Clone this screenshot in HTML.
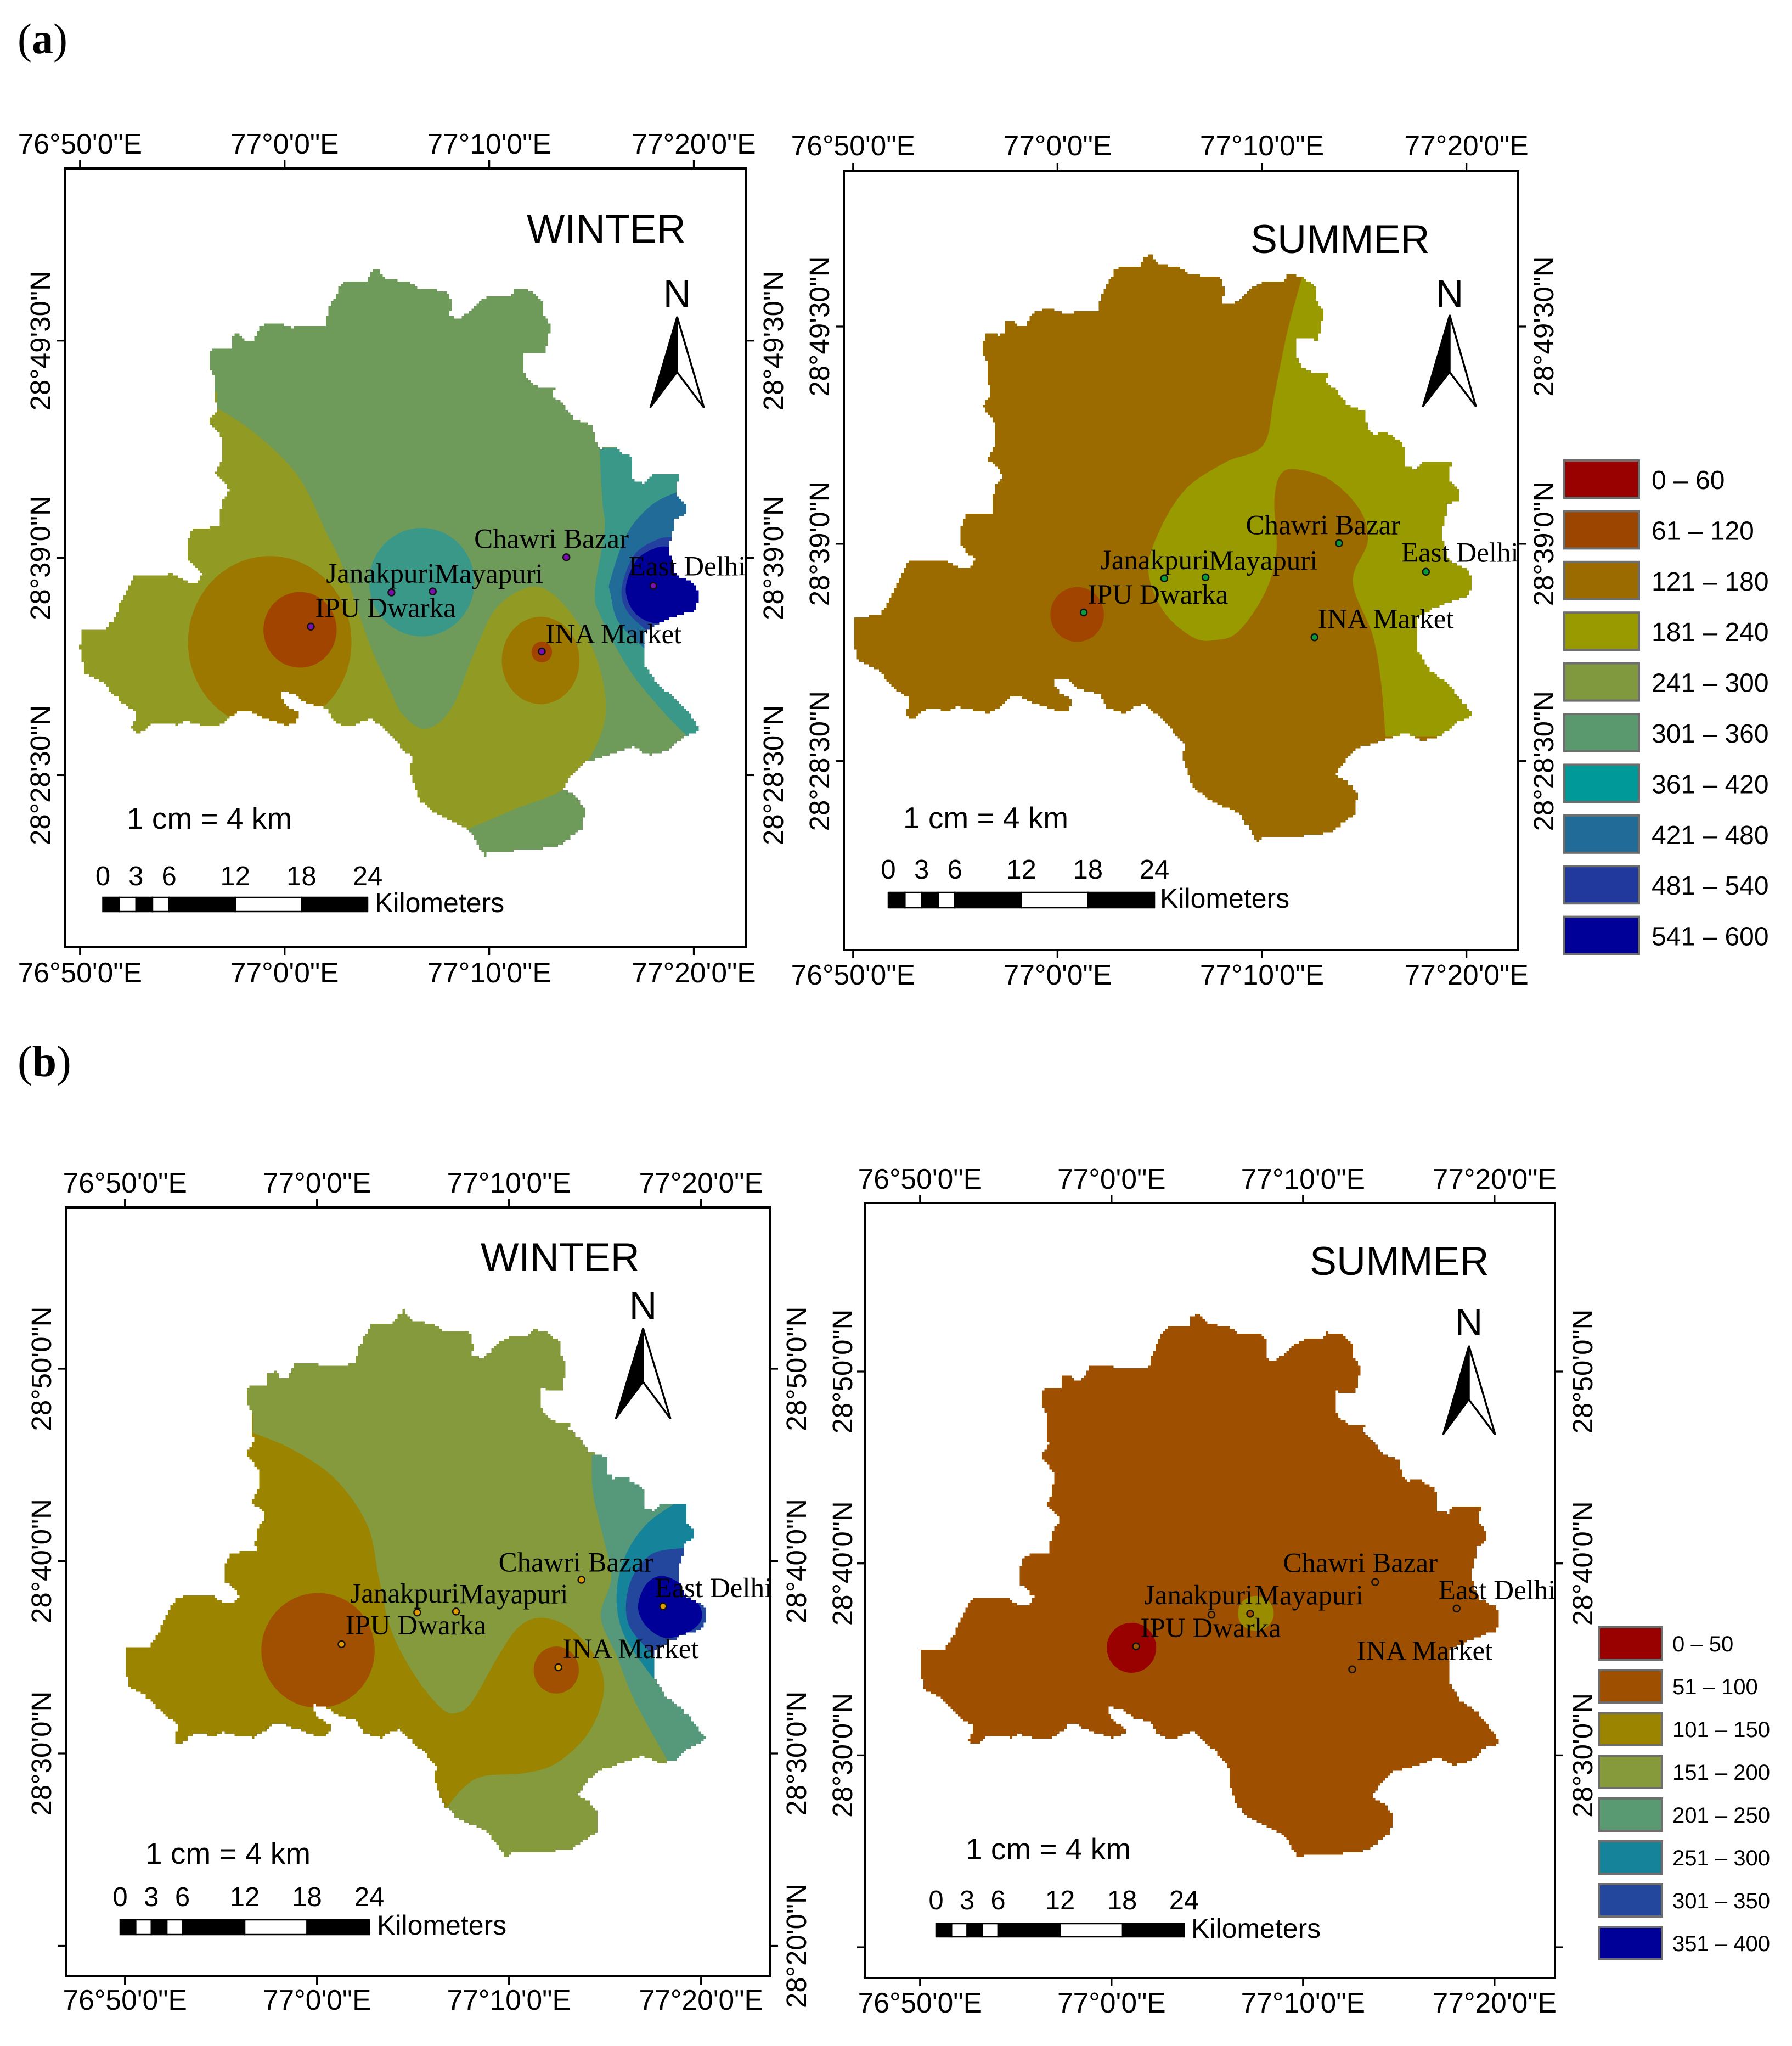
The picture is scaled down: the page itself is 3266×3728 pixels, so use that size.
<!DOCTYPE html>
<html lang="en">
<head>
<meta charset="utf-8">
<title>Delhi seasonal concentration maps</title>
<style>
html,body{margin:0;padding:0;background:#fff}
svg{display:block}
text{font-family:"Liberation Sans",Arial,sans-serif;fill:#000}
.serif{font-family:"Liberation Serif","Times New Roman",serif}
</style>
</head>
<body>
<svg id="figure" xmlns="http://www.w3.org/2000/svg" width="3266" height="3728" viewBox="0 0 3266 3728">
  <rect x="0" y="0" width="3266" height="3728" fill="#fff"/>
  <text class="serif" x="32" y="97" font-size="78">(<tspan font-weight="bold">a</tspan>)</text>
  <text class="serif" x="32" y="1961" font-size="80">(<tspan font-weight="bold">b</tspan>)</text>
</svg>
<script>
// ---- axis data (minutes east of 76°50' and north of 28°20') ----
const lonTickValues = [0, 10, 20, 30];
const lonTickLabels = ['76°50\'0"E', '77°0\'0"E', '77°10\'0"E', '77°20\'0"E'];
const latTickValuesA = [29.5, 19, 8.5];
const latTickLabelsA = ['28°49\'30"N', '28°39\'0"N', '28°28\'30"N'];
const latTickValuesB = [30, 20, 10, 0];
const latTickLabelsB = ['28°50\'0"N', '28°40\'0"N', '28°30\'0"N', '28°20\'0"N'];

// ---- monitoring stations ----
const stationNames = ['Janakpuri', 'Mayapuri', 'Chawri Bazar', 'East Delhi', 'INA Market', 'IPU Dwarka'];
const stationLon = [15.22, 17.24, 23.77, 28.02, 22.57, 11.28];
const stationLat = [17.33, 17.38, 19.03, 17.65, 14.48, 15.68];

// ---- legends ----
const legendARanges = ['0 – 60', '61 – 120', '121 – 180', '181 – 240', '241 – 300', '301 – 360', '361 – 420', '421 – 480', '481 – 540', '541 – 600'];
const legendAColors = ['#990000', '#9c4500', '#9c6b00', '#999900', '#80993f', '#5a996e', '#009999', '#216b99', '#21399c', '#000099'];
const legendBRanges = ['0 – 50', '51 – 100', '101 – 150', '151 – 200', '201 – 250', '251 – 300', '301 – 350', '351 – 400'];
const legendBColors = ['#990000', '#9e5000', '#9a8400', '#869a3c', '#5a9a72', '#15849a', '#23479c', '#000099'];

// ---- scale bar ----
const scaleLabels = [0, 3, 6, 12, 18, 24];
const scaleSegments = [0, 1.5, 3, 4.5, 6, 12, 18, 24];

// ---- district boundary, digitised on the winter (a) sheet ----
const boundarySheet = {x0: 145.8, kx: 37.29, y0: 620.7, v0: 29.5, ky: 37.7};
const boundary = [396,743,393,725,391,700,391,682,381,667,381,649,388,633,409,636,422,631,423,610,434,608,447,619,460,619,475,592,493,589,508,590,529,597,544,595,591,593,600,559,610,539,623,516,631,512,669,511,674,495,687,487,694,498,703,507,743,514,761,526,809,530,821,542,822,567,818,577,837,580,855,566,873,548,891,539,927,538,938,525,965,529,990,552,991,575,1003,594,1003,605,999,618,995,645,955,641,955,679,965,695,980,705,1016,706,1006,720,1026,738,1046,763,1080,776,1084,807,1094,817,1107,813,1118,813,1128,822,1144,830,1153,843,1153,875,1170,880,1187,865,1238,865,1238,877,1234,878,1234,903,1250,922,1250,937,1230,947,1230,968,1226,968,1226,985,1221,987,1221,1013,1232,1048,1243,1053,1263,1063,1273,1077,1273,1100,1267,1113,1233,1123,1210,1133,1200,1138,1175,1153,1175,1213,1178,1215,1198,1248,1229,1272,1255,1302,1273,1326,1271,1334,1250,1341,1219,1367,1188,1376,1156,1361,1104,1379,1068,1389,1042,1415,1026,1439,1047,1451,1065,1474,1063,1510,1016,1543,969,1549,896,1552,885,1560,854,1510,792,1480,766,1457,748,1409,750,1379,719,1344,680,1309,659,1316,645,1325,627,1321,609,1314,597,1291,563,1282,538,1264,516,1261,511,1271,520,1286,543,1300,545,1311,538,1320,520,1321,499,1314,470,1304,456,1296,438,1296,416,1314,397,1325,370,1321,338,1314,324,1321,282,1317,261,1334,249,1335,239,1325,244,1316,248,1307,247,1296,218,1275,200,1255,188,1243,163,1230,154,1225,150,1204,146,1179,147,1159,150,1149,193,1148,202,1132,213,1114,218,1100,245,1049,310,1046,340,1062,355,1061,370,1044,340,1016,340,990,350,962,400,960,399,939,406,909,418,893,414,881,391,863,404,837,406,797,381,766,394,746];

// ---- concentration zones per panel (digitised contours) ----
const zonesAWinter = [
  {name:'zone-181-240-west', fill:'#919a23', open:[380,625,448,665,522,730,571,816,601,871,645,983,684,1060,705,1095,745,1117,790,1085,830,1000,870,930,933,899,985,925,1040,1000,1060,1090,1030,1165,985,1210,900,1240,820,1270], close:[720,1350,100,1350,100,600,380,600]},
  {name:'zone-121-180-ipu', fill:'#9c7800', ellipse:[472,984,143,132]},
  {name:'zone-61-120-ipu', fill:'#a04400', ellipse:[525,965,64,58]},
  {name:'zone-361-420-centre', fill:'#3a9889', ellipse:[738,892,92,83]},
  {name:'zone-121-180-ina', fill:'#9c7800', ellipse:[946,1012,68,67]},
  {name:'zone-61-120-ina', fill:'#a04400', ellipse:[948,999,18,16]},
  {name:'zone-361-420-east', fill:'#3a9889', open:[1049,687,1054,768,1058,813,1041,906,1053,948,1101,1026,1160,1090,1205,1130], close:[1300,1130,1300,680]},
  {name:'zone-421-480-east', fill:'#216b99', open:[1184,754,1140,774,1097,818,1068,889,1068,908,1082,953,1128,994], close:[1300,994,1300,754]},
  {name:'zone-481-540-east', fill:'#23409e', open:[1177,823,1152,826,1111,849,1088,900,1097,936,1130,965], close:[1300,965,1300,823]},
  {name:'zone-541-600-east', fill:'#000099', open:[1173,838,1149,839,1114,858,1095,902,1111,939,1152,955,1216,939], close:[1300,939,1300,838]}
];
const zonesASummer = [
  {name:'zone-181-240-east', fill:'#999900', open:[818,285,795,380,775,490,758,575,700,605,640,650,600,720,582,790,605,860,650,905,685,910,720,895,760,830,778,760,775,670,785,625,810,617,860,635,905,685,918,740,895,810,925,900,938,980,945,1075], close:[1150,1075,1150,285]},
  {name:'zone-61-120-ipu', fill:'#a04400', ellipse:[473,866,41,47]}
];
const zonesBWinter = [
  {name:'zone-101-150-west', fill:'#9a8400', open:[482,628,560,655,640,700,700,770,722,850,745,930,790,1000,840,1050,870,1058,900,1040,950,970,990,925,1035,912,1090,930,1140,980,1150,1030,1120,1090,1060,1135,1000,1150,920,1155,880,1175,850,1205], close:[800,1300,100,1300,100,600,482,600]},
  {name:'zone-51-100-ipu', fill:'#a05000', ellipse:[606,962,108,88]},
  {name:'zone-51-100-ina', fill:'#a05000', ellipse:[1060,992,43,36]},
  {name:'zone-201-250-east', fill:'#55997a', open:[1128,662,1130,720,1150,790,1165,850,1145,910,1175,970,1210,1040,1275,1135], close:[1400,1135,1400,662]},
  {name:'zone-251-300-east', fill:'#15849a', open:[1285,737,1230,770,1190,820,1175,880,1190,940,1245,1005], close:[1400,1005,1400,737]},
  {name:'zone-301-350-east', fill:'#23479c', open:[1300,805,1240,815,1200,860,1197,920,1245,970], close:[1400,970,1400,805]},
  {name:'zone-351-400-east', fill:'#000099', blob:[1265,848,1310,868,1338,905,1320,930,1270,943,1232,925,1216,895,1232,860]}
];
const zonesBSummer = [
  {name:'zone-0-50-ipu', fill:'#990000', ellipse:[499,884,40,43]},
  {name:'zone-101-150-mayapuri', fill:'#9a8c00', ellipse:[700,825,29,30]}
];

// ---- panel layouts ----
const panels = [
  {id:'a-winter', frame:[118,307,1359,1726], x0:145.8, kx:37.29, yRef:620.7, vRef:29.5, ky:37.7,
   sheet:{x0:140,kx:35.8,y0:522,v0:29.5,ky:31.7}, base:'#6e9a5a', zones:zonesAWinter, marker:'#7a10b0',
   latValues:latTickValuesA, leftLabels:latTickLabelsA, rightLabels:latTickLabelsA,
   topBase:280, botBase:1790, leftBase:91, rightBase:1427,
   labelDx:[-119,3,-168,-45,7,8], labelDy:[-18,-15,-17,-19,-15,-17],
   title:'WINTER', titleX:960, titleY:442,
   north:[1234,559,577,678,743,1185,1283],
   bar:[187.5,670,1635,1661,1613], kmX:683, kmY:1662, cmX:231, cmY:1510},
  {id:'a-summer', frame:[1538,312,2767,1731], x0:1554.8, kx:37.26, yRef:595, vRef:29.5, ky:37.7,
   sheet:{x0:130,kx:31.3,y0:372,v0:29.5,ky:35.5}, base:'#9c6b00', zones:zonesASummer, marker:'#0a9a3c',
   latValues:latTickValuesA, leftLabels:latTickLabelsA, rightLabels:latTickLabelsA,
   topBase:283, botBase:1794, leftBase:1511, rightBase:2831,
   labelDx:[-116,6,-170,-45,6,7], labelDy:[-17,-14,-16,-18,-17,-16],
   title:'SUMMER', titleX:2279, titleY:461,
   north:[2642,559,574,678,741,2593,2690],
   bar:[1619,2104,1626,1654,1601], kmX:2114, kmY:1654, cmX:1646, cmY:1509,
   legend:{ranges:legendARanges, colors:legendAColors, x:2851, y:839, w:136, h:68, step:92.4, textX:3010, textDy:52, size:48}},
  {id:'b-winter', frame:[120,2200,1403,3601], x0:227.7, kx:35.0, yRef:2494, vRef:30, ky:35.05,
   sheet:{x0:238,kx:36.6,y0:530,v0:30,ky:29.5}, base:'#849a3c', zones:zonesBWinter, marker:'#e09a00',
   latValues:latTickValuesB, leftLabels:['28°50\'0"N','28°40\'0"N','28°30\'0"N',''], rightLabels:latTickLabelsB,
   topBase:2173, botBase:3662, leftBase:93, rightBase:1469,
   labelDx:[-122,6,-151,-15,8,7], labelDy:[-18,-15,-15,-17,-17,-18],
   title:'WINTER', titleX:876, titleY:2316,
   north:[1172,2403,2420,2518,2585,1122,1222],
   bar:[219,673,3498,3525,3473], kmX:687, kmY:3525, cmX:265, cmY:3396},
  {id:'b-summer', frame:[1577,2192,2834,3604], x0:1676.8, kx:34.9, yRef:2499, vRef:30, ky:34.97,
   sheet:{x0:157,kx:30.97,y0:410,v0:30,ky:32.93}, base:'#9e5000', zones:zonesBSummer, marker:'#9e5000',
   latValues:latTickValuesB, leftLabels:['28°50\'0"N','28°40\'0"N','28°30\'0"N',''], rightLabels:['28°50\'0"N','28°40\'0"N','28°30\'0"N',''],
   topBase:2166, botBase:3667, leftBase:1553, rightBase:2902,
   labelDx:[-123,8,-168,-33,8,8], labelDy:[-19,-17,-18,-17,-17,-17],
   title:'SUMMER', titleX:2387, titleY:2323,
   north:[2677,2433,2452,2550,2614,2630,2725],
   bar:[1706,2158,3505,3529,3479], kmX:2171, kmY:3531, cmX:1760, cmY:3388,
   legend:{ranges:legendBRanges, colors:legendBColors, x:2914, y:2965, w:115, h:59, step:78, textX:3048, textDy:44, size:40}}
];

const NS = 'http://www.w3.org/2000/svg';
const root = document.getElementById('figure');
function mk(tag, attrs, parent, txt) {
  const e = document.createElementNS(NS, tag);
  for (const k in attrs) e.setAttribute(k, attrs[k]);
  if (txt !== undefined) e.textContent = txt;
  parent.appendChild(e);
  return e;
}
// sheet coordinates -> lon/lat minutes
function sheetToGeo(s, x, y) {
  return [(x - s.x0) / s.kx, s.v0 - (y - s.y0) / s.ky];
}
function chain(flat) {
  const out = [];
  for (let i = 0; i < flat.length; i += 2) out.push([flat[i], flat[i + 1]]);
  return out;
}
// staircase outline, like the raster edge of the interpolated surface
function stairPath(pts, cell) {
  const snap = v => Math.round(v / cell) * cell;
  let px = snap(pts[0][0]), py = snap(pts[0][1]);
  let d = 'M' + px + ' ' + py;
  const n = pts.length;
  for (let i = 1; i <= n; i++) {
    const a = pts[i - 1], b = pts[i % n];
    const steps = Math.ceil(Math.max(Math.abs(b[0] - a[0]), Math.abs(b[1] - a[1])) / cell) || 1;
    for (let j = 1; j <= steps; j++) {
      const qx = snap(a[0] + (b[0] - a[0]) * j / steps);
      const qy = snap(a[1] + (b[1] - a[1]) * j / steps);
      if (qx !== px) d += 'H' + qx;
      if (qy !== py) d += 'V' + qy;
      px = qx; py = qy;
    }
  }
  return d + 'Z';
}
function smoothSegs(p, closed) {
  let d = '';
  const n = p.length, last = closed ? n : n - 1;
  const at = i => closed ? p[(i + n) % n] : p[Math.max(0, Math.min(n - 1, i))];
  for (let i = 0; i < last; i++) {
    const p0 = at(i - 1), p1 = at(i), p2 = at(i + 1), p3 = at(i + 2);
    const c1x = p1[0] + (p2[0] - p0[0]) / 6, c1y = p1[1] + (p2[1] - p0[1]) / 6;
    const c2x = p2[0] - (p3[0] - p1[0]) / 6, c2y = p2[1] - (p3[1] - p1[1]) / 6;
    d += 'C' + c1x.toFixed(1) + ' ' + c1y.toFixed(1) + ' ' + c2x.toFixed(1) + ' ' + c2y.toFixed(1) + ' ' + p2[0].toFixed(1) + ' ' + p2[1].toFixed(1);
  }
  return d;
}

panels.forEach(function (P) {
  const sx = u => P.x0 + u * P.kx;
  const sy = v => P.yRef - (v - P.vRef) * P.ky;
  const toPx = (x, y) => { const g = sheetToGeo(P.sheet, x, y); return [sx(g[0]), sy(g[1])]; };
  const outlinePx = chain(boundary).map(q => {
    const g = sheetToGeo(boundarySheet, q[0], q[1]);
    return [sx(g[0]), sy(g[1])];
  });
  const outlineD = stairPath(outlinePx, 4.5);

  const g = mk('g', {}, root);
  
  

  const clip = mk('clipPath', {id: 'clip-' + P.id}, g);
  mk('path', {d: outlineD}, clip);

  const region = mk('path', {d: outlineD, fill: P.base}, g);
  
  

  const zoneGroup = mk('g', {'clip-path': 'url(#clip-' + P.id + ')'}, g);
  
  
  P.zones.forEach(function (z) {
    let d;
    if (z.ellipse) {
      const e = z.ellipse;
      const a = toPx(e[0] - e[2], e[1] - e[3]), b = toPx(e[0] + e[2], e[1] + e[3]);
      const rx = (b[0] - a[0]) / 2, ry = (b[1] - a[1]) / 2, cy = (a[1] + b[1]) / 2;
      d = 'M' + a[0] + ' ' + cy + 'A' + rx + ' ' + ry + ' 0 1 0 ' + b[0] + ' ' + cy + 'A' + rx + ' ' + ry + ' 0 1 0 ' + a[0] + ' ' + cy + 'Z';
    } else if (z.blob) {
      const p = chain(z.blob).map(q => toPx(q[0], q[1]));
      d = 'M' + p[0][0].toFixed(1) + ' ' + p[0][1].toFixed(1) + smoothSegs(p, true) + 'Z';
    } else {
      const p = chain(z.open).map(q => toPx(q[0], q[1]));
      d = 'M' + p[0][0].toFixed(1) + ' ' + p[0][1].toFixed(1) + smoothSegs(p, false);
      chain(z.close).forEach(q => { const c = toPx(q[0], q[1]); d += 'L' + c[0].toFixed(1) + ' ' + c[1].toFixed(1); });
      d += 'Z';
    }
    const zp = mk('path', {d: d, fill: z.fill}, zoneGroup);
    
    
  });

  // frame
  const f = P.frame;
  const frame = mk('rect', {x: f[0], y: f[1], width: f[2] - f[0], height: f[3] - f[1], fill: 'none', stroke: '#000', 'stroke-width': 4}, g);
  
  

  // longitude ticks and labels
  lonTickValues.forEach(function (u, i) {
    const x = sx(u);
    const t1 = mk('line', {x1: x, x2: x, y1: f[1] - 15, y2: f[1], stroke: '#000', 'stroke-width': 3.3}, g);
    
    
    const t2 = mk('line', {x1: x, x2: x, y1: f[3], y2: f[3] + 15, stroke: '#000', 'stroke-width': 3.3}, g);
    
    
    const l1 = mk('text', {x: x, y: P.topBase, 'text-anchor': 'middle', 'font-size': 51.5}, g, lonTickLabels[i]);
    
    
    const l2 = mk('text', {x: x, y: P.botBase, 'text-anchor': 'middle', 'font-size': 51.5}, g, lonTickLabels[i]);
    
    
  });

  // latitude ticks and labels
  P.latValues.forEach(function (v, i) {
    const y = sy(v);
    const t1 = mk('line', {x1: f[0] - 15, x2: f[0], y1: y, y2: y, stroke: '#000', 'stroke-width': 3.3}, g);
    
    
    const t2 = mk('line', {x1: f[2], x2: f[2] + 15, y1: y, y2: y, stroke: '#000', 'stroke-width': 3.3}, g);
    
    
    if (P.leftLabels[i]) {
      const l1 = mk('text', {x: P.leftBase, y: y, 'text-anchor': 'middle', 'font-size': 51, transform: 'rotate(-90 ' + P.leftBase + ' ' + y + ')'}, g, P.leftLabels[i]);
      
      
    }
    if (P.rightLabels[i]) {
      const l2 = mk('text', {x: P.rightBase, y: y, 'text-anchor': 'middle', 'font-size': 51, transform: 'rotate(-90 ' + P.rightBase + ' ' + y + ')'}, g, P.rightLabels[i]);
      
      
    }
  });

  // stations
  stationNames.forEach(function (name, i) {
    const x = sx(stationLon[i]), y = sy(stationLat[i]);
    const m = mk('circle', {cx: x, cy: y, r: 6, fill: P.marker, stroke: '#111', 'stroke-width': 2.5}, g);
    
    
    const t = mk('text', {x: x + P.labelDx[i], y: y + P.labelDy[i], 'font-size': 51, class: 'serif'}, g, name);
    
    
  });

  // title
  const title = mk('text', {x: P.titleX, y: P.titleY, 'font-size': 73.5}, g, P.title);
  
  

  // north arrow: [x, Nbaseline, apexY, notchY, bottomY, leftX, rightX]
  const N = P.north;
  const nt = mk('text', {x: N[0], y: N[1], 'text-anchor': 'middle', 'font-size': 70}, g, 'N');
  
  
  const na = mk('path', {d: 'M' + N[0] + ' ' + N[2] + 'L' + N[5] + ' ' + N[4] + 'L' + N[0] + ' ' + N[3] + 'Z', fill: '#000', stroke: '#000', 'stroke-width': 3}, g);
  
  
  const nb = mk('path', {d: 'M' + N[0] + ' ' + N[2] + 'L' + N[6] + ' ' + N[4] + 'L' + N[0] + ' ' + N[3] + 'Z', fill: '#fff', stroke: '#000', 'stroke-width': 3.5}, g);
  
  

  // scale bar: [x0, x1, y0, y1, labelBaseline]
  const B = P.bar, km = k => B[0] + k * (B[1] - B[0]) / 24;
  for (let i = 0; i < scaleSegments.length - 1; i++) {
    const seg = mk('rect', {x: km(scaleSegments[i]), y: B[2], width: km(scaleSegments[i + 1]) - km(scaleSegments[i]), height: B[3] - B[2], fill: i % 2 ? '#fff' : '#000', stroke: '#000', 'stroke-width': 2.5}, g);
    
    
  }
  scaleLabels.forEach(function (k) {
    const t = mk('text', {x: km(k), y: B[4], 'text-anchor': 'middle', 'font-size': 49}, g, String(k));
    
    
  });
  const kmT = mk('text', {x: P.kmX, y: P.kmY, 'font-size': 50}, g, 'Kilometers');
  
  
  const cmT = mk('text', {x: P.cmX, y: P.cmY, 'font-size': 55}, g, '1 cm = 4 km');
  
  

  // legend
  if (P.legend) {
    const L = P.legend;
    const lg = mk('g', {}, g);
    
    
    L.ranges.forEach(function (r, i) {
      const y = L.y + i * L.step;
      const sw = mk('rect', {x: L.x, y: y, width: L.w, height: L.h, fill: L.colors[i], stroke: '#6e6e6e', 'stroke-width': 4}, lg);
      
      
      const t = mk('text', {x: L.textX, y: y + L.textDy, 'font-size': L.size}, lg, r);
      
      
    });
  }
});
</script>
</body>
</html>
